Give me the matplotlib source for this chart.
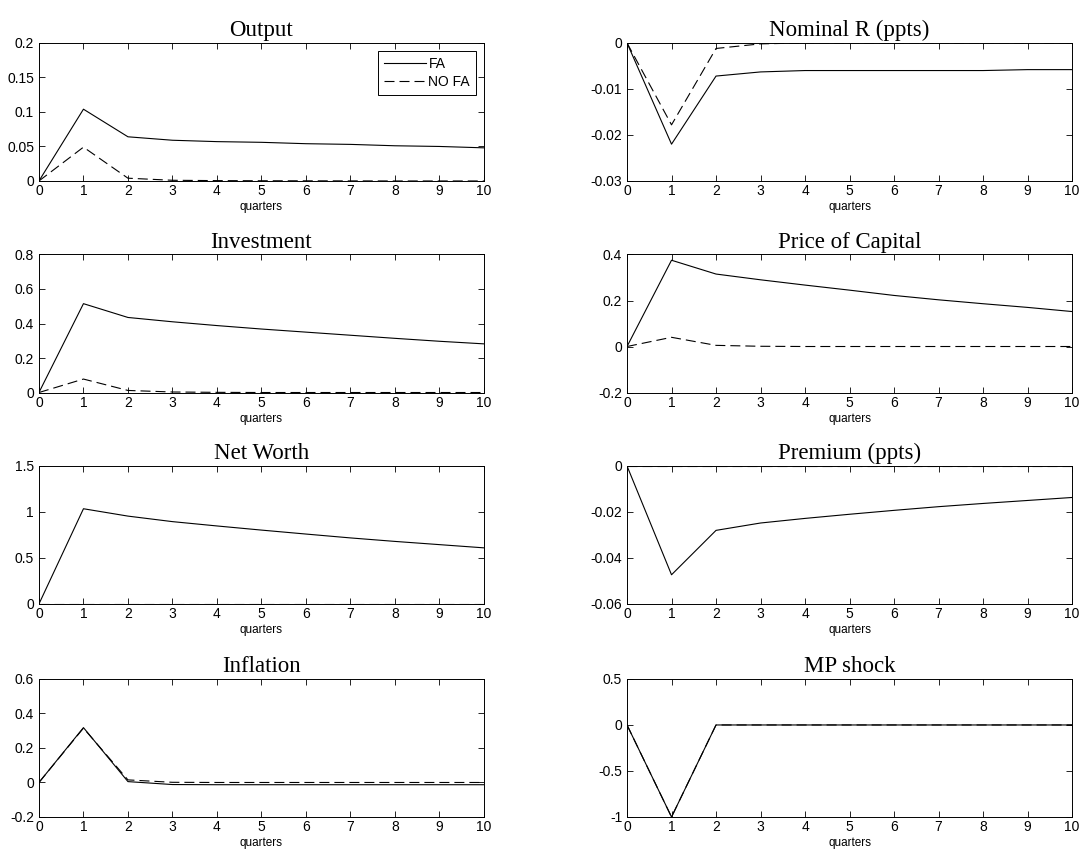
import matplotlib
matplotlib.use('Agg')
from matplotlib import pyplot as plt
from matplotlib.ticker import FuncFormatter
import numpy as np

# quarters after the shock
quarters = np.arange(0, 11)

# impulse responses, with financial accelerator (FA) and without (NO FA)
output_fa = [0, 0.104, 0.064, 0.059, 0.057, 0.056, 0.054, 0.053, 0.051, 0.050, 0.048]
output_nofa = [0, 0.049, 0.004, 0.001, 0.0005, 0.0003, 0.0002, 0.0001, 0, 0, 0]

nomr_fa = [0, -0.022, -0.0072, -0.0063, -0.0060, -0.0060, -0.0060, -0.0060, -0.0060, -0.0058, -0.0058]
nomr_nofa = [0, -0.0178, -0.0012, -0.0002, 0, 0, 0, 0, 0, 0, 0]

inv_fa = [0, 0.515, 0.435, 0.41, 0.388, 0.368, 0.35, 0.332, 0.314, 0.297, 0.282]
inv_nofa = [0, 0.078, 0.012, 0.003, 0.001, 0, 0, 0, 0, 0, 0]

qk_fa = [0, 0.375, 0.315, 0.29, 0.267, 0.245, 0.222, 0.203, 0.186, 0.17, 0.152]
qk_nofa = [0, 0.04, 0.005, 0.001, 0, 0, 0, 0, 0, 0, 0]

nw_fa = [0, 1.035, 0.955, 0.895, 0.848, 0.803, 0.76, 0.718, 0.68, 0.645, 0.61]
nw_nofa = [0, 0, 0, 0, 0, 0, 0, 0, 0, 0, 0]

prem_fa = [0, -0.0473, -0.028, -0.0248, -0.0228, -0.021, -0.0193, -0.0177, -0.0163, -0.015, -0.0137]
prem_nofa = [0, 0, 0, 0, 0, 0, 0, 0, 0, 0, 0]

infl_fa = [0, 0.318, 0.005, -0.012, -0.013, -0.013, -0.013, -0.013, -0.013, -0.013, -0.013]
infl_nofa = [0, 0.315, 0.015, 0.001, 0, 0, 0, 0, 0, 0, 0]

mp_fa = [0, -1, 0, 0, 0, 0, 0, 0, 0, 0, 0]
mp_nofa = [0, -1, 0, 0, 0, 0, 0, 0, 0, 0, 0]

titles = ['Output', 'Nominal R (ppts)', 'Investment', 'Price of Capital',
          'Net Worth', 'Premium (ppts)', 'Inflation', 'MP shock']
fa_series = [output_fa, nomr_fa, inv_fa, qk_fa, nw_fa, prem_fa, infl_fa, mp_fa]
nofa_series = [output_nofa, nomr_nofa, inv_nofa, qk_nofa, nw_nofa, prem_nofa, infl_nofa, mp_nofa]
ylims = [(0, 0.2), (-0.03, 0), (0, 0.8), (-0.2, 0.4),
         (0, 1.5), (-0.06, 0), (-0.2, 0.6), (-1, 0.5)]
ysteps = [0.05, 0.01, 0.2, 0.2, 0.5, 0.02, 0.2, 0.5]

plt.rcParams['font.family'] = ['Liberation Sans', 'DejaVu Sans']

fig = plt.figure(figsize=(10.82, 8.52), dpi=100)

# matlab-like subplot(4,2,k) grid
lefts = [0.0360, 0.5795]
width = 0.4113
bottoms = [0.7876, 0.5393, 0.2911, 0.0411]
height = 0.162


def matlab_fmt(v, pos):
    if abs(v) < 1e-12:
        return '0'
    return '%g' % round(v, 6)


for i in range(8):
    row, col = divmod(i, 2)
    ax = fig.add_axes([lefts[col], bottoms[row], width, height])
    ax.plot(quarters, fa_series[i], color='black', lw=0.8, label='FA')
    ax.plot(quarters, nofa_series[i], color='black', lw=0.8, dashes=(9, 4.5), label='NO FA')
    ax.set_xlim(0, 10)
    ax.set_ylim(*ylims[i])
    ax.set_xticks(quarters)
    lo, hi = ylims[i]
    ax.set_yticks(np.arange(lo, hi + ysteps[i] / 2, ysteps[i]))
    ax.yaxis.set_major_formatter(FuncFormatter(matlab_fmt))
    ax.tick_params(direction='in', length=4, width=0.6, top=True, right=True,
                   labelsize=10)
    ax.tick_params(axis='x', pad=2.5)
    ax.tick_params(axis='y', pad=3.5)
    for s in ax.spines.values():
        s.set_linewidth(0.7)
    ax.set_title(titles[i], fontsize=16.5, family='Liberation Serif', pad=4.8)
    ax.set_xlabel('quarters', fontsize=8.5, labelpad=2)
    if i == 0:
        leg = ax.legend(loc='upper right', fontsize=10, fancybox=False, framealpha=1,
                        edgecolor='black', handlelength=3.0, borderpad=0.45,
                        labelspacing=0.3, handletextpad=0.2, borderaxespad=0.55)
        leg.get_frame().set_linewidth(0.7)

fig.savefig('out.png', dpi=100)
